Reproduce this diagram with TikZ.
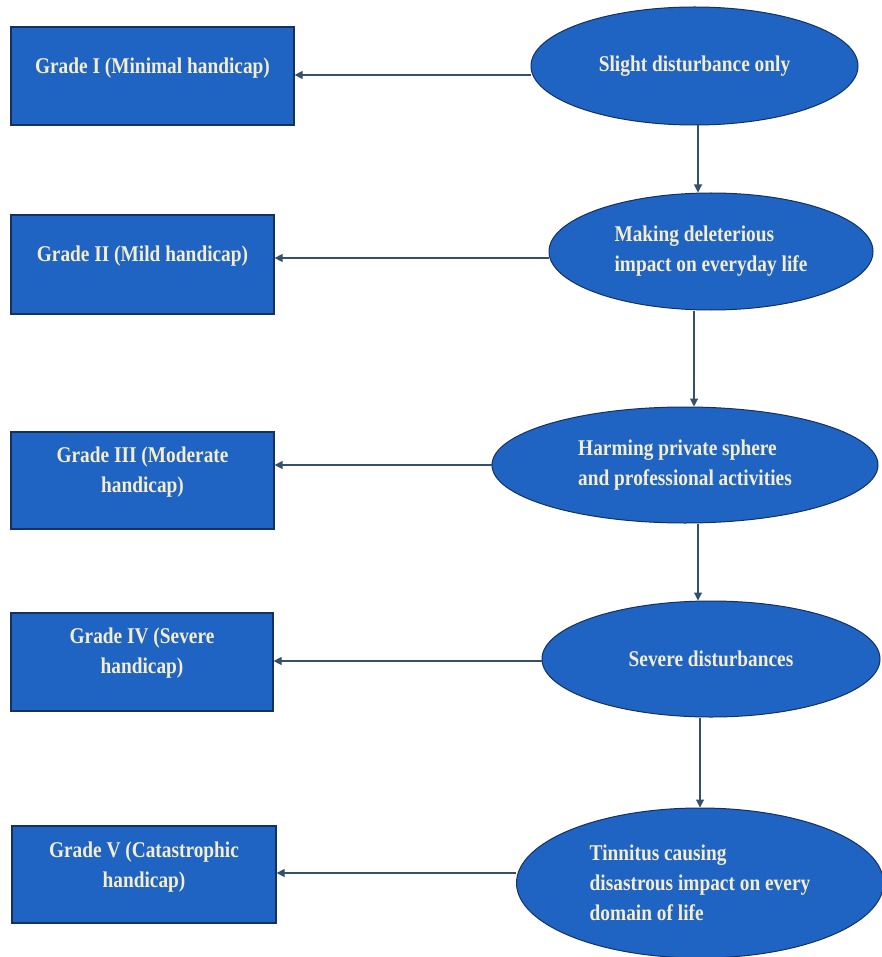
\documentclass[tikz,border=0pt]{standalone}
\usepackage{fontspec}
\setmainfont{Liberation Serif}[FakeStretch=0.86]
\usetikzlibrary{shapes.geometric,arrows.meta}
\definecolor{boxblue}{HTML}{1F64C2}
\definecolor{edgenavy}{HTML}{14315F}
\definecolor{arrowgrey}{HTML}{34506B}
\definecolor{textcream}{HTML}{F4EDCB}

\begin{document}
\begin{tikzpicture}[x=1pt,y=-1pt,
	grade/.style={rectangle,draw=edgenavy,line width=1.2pt,fill=boxblue,inner sep=0pt},
	gradetext/.style={text=textcream,font=\fontsize{22.5}{30}\selectfont\bfseries,align=center},
	effect/.style={ellipse,draw=edgenavy,line width=1pt,fill=boxblue,inner sep=0pt,
		text=textcream,font=\fontsize{22.5}{30}\selectfont\bfseries,align=left},
	flow/.style={draw=arrowgrey,line width=1.1pt,-{Triangle[length=8pt,width=8pt]}}]
			\useasboundingbox (0,0) rectangle (881,957);

			% grades on the left
			\node[grade,minimum width=283pt,minimum height=98pt] (g1) at (152.5,76) {};
			\node[grade,minimum width=263pt,minimum height=99pt] (g2) at (142.5,264.5) {};
			\node[grade,minimum width=263pt,minimum height=97pt] (g3) at (142.5,480.5) {};
			\node[grade,minimum width=262pt,minimum height=98pt] (g4) at (142,662) {};
			\node[grade,minimum width=264pt,minimum height=97pt] (g5) at (144,874.5) {};

			\node[gradetext,yshift=8pt] (g1t) at (g1) {Grade I (Minimal handicap)};
			\node[gradetext,yshift=8pt] (g2t) at (g2) {Grade II (Mild handicap)};
			\node[gradetext,yshift=8pt] (g3t) at (g3) {Grade III (Moderate\\handicap)};
			\node[gradetext,yshift=9pt] (g4t) at (g4) {Grade IV (Severe\\handicap)};
			\node[gradetext,yshift=7pt] (g5t) at (g5) {Grade V (Catastrophic\\handicap)};

			% effects on the right
			\node[effect,minimum width=327pt,minimum height=118pt] (e1) at (694.5,66) {Slight disturbance only};
			\node[effect,minimum width=324pt,minimum height=117pt] (e2) at (711,251.5) {Making deleterious\\impact on everyday life};
			\node[effect,minimum width=386pt,minimum height=116pt] (e3) at (685,465) {Harming private sphere\\and professional activities};
			\node[effect,minimum width=338pt,minimum height=116pt] (e4) at (711,659) {Severe disturbances};
			\node[effect,minimum width=367pt,minimum height=150pt] (e5) at (700,883) {Tinnitus causing\\disastrous impact on every\\domain of life};

			\foreach \i/\y in {1/75,2/258,3/465,4/661,5/873}
				\draw[flow] (e\i.west |- 0,\y) -- (g\i.east |- 0,\y);

			\foreach \i/\j/\x in {1/2/698,2/3/694,3/4/698,4/5/700}
				\draw[flow] (e\i.south -| \x,0) -- (e\j.north -| \x,0);
		\end{tikzpicture}
\end{document}
